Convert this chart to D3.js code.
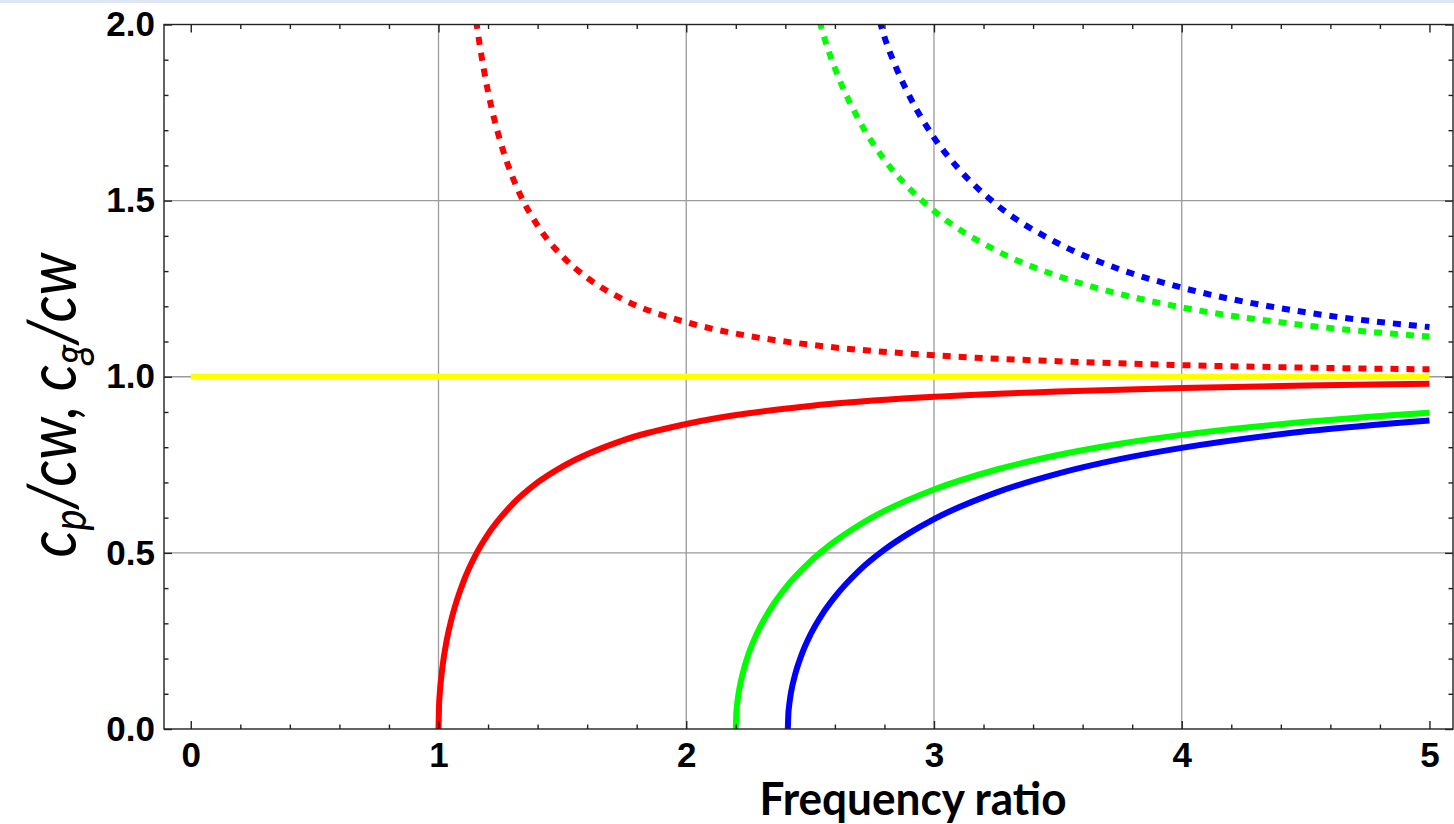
<!DOCTYPE html>
<html>
<head>
<meta charset="utf-8">
<script src="https://cdn.jsdelivr.net/npm/d3@7"></script>
<style>
  html, body { margin: 0; padding: 0; background: #fff; overflow: hidden; }
  svg { display: block; }
</style>
</head>
<body>
<div id="chart"></div>
<script>
// values: [frequency ratio, velocity ratio]
var waterLine   = [[0, 1.0], [5, 1.0]];
var redGroup    = [[1.0,0],[1.002,0.063],[1.005,0.100],[1.01,0.140],[1.02,0.197],[1.03,0.240],[1.05,0.305],[1.075,0.367],[1.1,0.417],[1.15,0.494],[1.2,0.553],[1.3,0.639],[1.4,0.700],[1.5,0.745],[1.75,0.821],[2,0.866],[2.5,0.917],[3,0.943],[3.5,0.958],[4,0.968],[4.5,0.975],[5,0.980]];
var redPhase    = [[1.152,2.01],[1.17,1.926],[1.2,1.809],[1.25,1.667],[1.3,1.565],[1.4,1.429],[1.5,1.342],[1.6,1.281],[1.75,1.218],[2,1.155],[2.25,1.116],[2.5,1.091],[3,1.061],[3.5,1.044],[4,1.033],[4.5,1.026],[5,1.021]];
var greenGroup  = [[2.2,0],[2.202,0.043],[2.205,0.067],[2.21,0.095],[2.22,0.134],[2.23,0.163],[2.25,0.210],[2.275,0.255],[2.3,0.292],[2.35,0.352],[2.4,0.400],[2.5,0.475],[2.6,0.533],[2.7,0.580],[2.8,0.619],[3,0.680],[3.25,0.736],[3.5,0.778],[3.75,0.810],[4,0.835],[4.5,0.872],[5,0.898]];
var greenPhase  = [[2.538,2.01],[2.56,1.956],[2.6,1.876],[2.7,1.725],[2.8,1.616],[2.9,1.535],[3,1.471],[3.25,1.359],[3.5,1.286],[3.75,1.235],[4,1.197],[4.5,1.146],[5,1.114]];
var blueGroup   = [[2.41,0],[2.412,0.041],[2.415,0.064],[2.42,0.091],[2.43,0.128],[2.44,0.156],[2.47,0.219],[2.5,0.266],[2.55,0.327],[2.6,0.375],[2.7,0.451],[2.8,0.509],[2.9,0.556],[3,0.596],[3.25,0.671],[3.5,0.725],[3.75,0.766],[4,0.798],[4.5,0.845],[5,0.876]];
var bluePhase   = [[2.781,2.01],[2.8,1.965],[2.85,1.873],[2.9,1.798],[3,1.679],[3.1,1.590],[3.25,1.490],[3.5,1.379],[3.75,1.305],[4,1.253],[4.5,1.183],[5,1.141]];

var xTicks = [0, 1, 2, 3, 4, 5];
var xMinorTicks = [0.2,0.4,0.6,0.8,1.2,1.4,1.6,1.8,2.2,2.4,2.6,2.8,3.2,3.4,3.6,3.8,4.2,4.4,4.6,4.8];
var yTicks = [0, 0.5, 1.0, 1.5, 2.0];
var yMinorTicks = [0.1,0.2,0.3,0.4,0.6,0.7,0.8,0.9,1.1,1.2,1.3,1.4,1.6,1.7,1.8,1.9];
var xGrid = [1, 2, 3, 4];
var yGrid = [0.5, 1.0, 1.5];

var width = 1454, height = 824;
var plot = {left: 164, right: 1453, top: 24.5, bottom: 729};

var svg = d3.select("#chart").append("svg")
	.attr("width", width)
	.attr("height", height);

// thin pale band along the top edge of the slide
svg.append("rect")
	.attr("x", 0).attr("y", 0)
	.attr("width", width).attr("height", 3)
	.style("fill", "#dfe6f4");

var x = d3.scaleLinear().domain([-0.108, 5.095]).range([plot.left, plot.right]);
var y = d3.scaleLinear().domain([0, 2]).range([plot.bottom, plot.top]);

svg.append("clipPath").attr("id", "clip")
	.append("rect")
	.attr("x", plot.left).attr("y", plot.top)
	.attr("width", plot.right - plot.left).attr("height", plot.bottom - plot.top);

// grid
var grid = svg.append("g").attr("class", "grid");
grid.selectAll(".vgrid").data(xGrid).enter().append("line")
	.attr("x1", function(d){ return x(d); }).attr("x2", function(d){ return x(d); })
	.attr("y1", plot.top).attr("y2", plot.bottom)
	.style("stroke", "#9a9a9a").style("stroke-width", 1.3);
grid.selectAll(".hgrid").data(yGrid).enter().append("line")
	.attr("y1", function(d){ return y(d); }).attr("y2", function(d){ return y(d); })
	.attr("x1", plot.left).attr("x2", plot.right)
	.style("stroke", "#9a9a9a").style("stroke-width", 1.3);

// curves
var line = d3.line()
	.x(function(d){ return x(d[0]); })
	.y(function(d){ return y(d[1]); })
	.curve(d3.curveMonotoneX);

var series = [
	{data: waterLine,  color: "#ffff00", dash: null},
	{data: redPhase,   color: "#ff0000", dash: "8,8"},
	{data: greenPhase, color: "#00ff00", dash: "8,8"},
	{data: bluePhase,  color: "#0000ff", dash: "8,8"},
	{data: redGroup,   color: "#ff0000", dash: null},
	{data: greenGroup, color: "#00ff00", dash: null},
	{data: blueGroup,  color: "#0000ff", dash: null}
];

var curves = svg.append("g").attr("clip-path", "url(#clip)");
curves.selectAll(".curve").data(series).enter().append("path")
	.attr("class", "curve")
	.attr("d", function(d){ return line(d.data); })
	.style("fill", "none")
	.style("stroke", function(d){ return d.color; })
	.style("stroke-width", 6)
	.style("stroke-dasharray", function(d){ return d.dash; });

// frame with inward ticks
function styleAxis(g) {
	g.select(".domain").remove();
	g.selectAll(".tick line").style("stroke", "#222").style("stroke-width", 1.4);
	g.selectAll(".tick text")
		.style("font-family", "'Liberation Sans', Arial, sans-serif")
		.style("font-weight", "bold")
		.style("font-size", "35px")
		.style("fill", "#000");
}

svg.append("g").attr("transform", "translate(0," + plot.bottom + ")")
	.call(d3.axisBottom(x).tickValues(xTicks).tickSizeInner(-8).tickSizeOuter(0).tickPadding(13).tickFormat(d3.format("d")))
	.call(styleAxis);
svg.append("g").attr("transform", "translate(0," + plot.bottom + ")")
	.call(d3.axisBottom(x).tickValues(xMinorTicks).tickSizeInner(-4.5).tickSizeOuter(0).tickFormat(""))
	.call(styleAxis);
svg.append("g").attr("transform", "translate(0," + plot.top + ")")
	.call(d3.axisTop(x).tickValues(xTicks).tickSizeInner(-8).tickSizeOuter(0).tickFormat(""))
	.call(styleAxis);
svg.append("g").attr("transform", "translate(0," + plot.top + ")")
	.call(d3.axisTop(x).tickValues(xMinorTicks).tickSizeInner(-4.5).tickSizeOuter(0).tickFormat(""))
	.call(styleAxis);

svg.append("g").attr("transform", "translate(" + plot.left + ",0)")
	.call(d3.axisLeft(y).tickValues(yTicks).tickSizeInner(-8).tickSizeOuter(0).tickPadding(9).tickFormat(d3.format(".1f")))
	.call(styleAxis);
svg.append("g").attr("transform", "translate(" + plot.left + ",0)")
	.call(d3.axisLeft(y).tickValues(yMinorTicks).tickSizeInner(-4.5).tickSizeOuter(0).tickFormat(""))
	.call(styleAxis);
svg.append("g").attr("transform", "translate(" + plot.right + ",0)")
	.call(d3.axisRight(y).tickValues(yTicks).tickSizeInner(-8).tickSizeOuter(0).tickFormat(""))
	.call(styleAxis);
svg.append("g").attr("transform", "translate(" + plot.right + ",0)")
	.call(d3.axisRight(y).tickValues(yMinorTicks).tickSizeInner(-4.5).tickSizeOuter(0).tickFormat(""))
	.call(styleAxis);

svg.append("rect")
	.attr("x", plot.left).attr("y", plot.top)
	.attr("width", plot.right - plot.left).attr("height", plot.bottom - plot.top)
	.style("fill", "none").style("stroke", "#222").style("stroke-width", 1.4);

// axis titles
svg.append("text")
	.attr("x", 913).attr("y", 815)
	.attr("text-anchor", "middle")
	.style("font-family", "Lato, 'Open Sans', sans-serif")
	.style("font-weight", "bold")
	.style("font-size", "46px")
	.attr("textLength", 307)
	.attr("lengthAdjust", "spacingAndGlyphs")
	.text("Frequency ratio");

var yTitle = svg.append("text")
	.attr("transform", "translate(76,405) rotate(-90)")
	.attr("text-anchor", "middle")
	.style("font-family", "Lato, 'Open Sans', sans-serif")
	.style("font-style", "italic")
	.style("font-size", "68px")
	.attr("textLength", 305)
	.attr("lengthAdjust", "spacingAndGlyphs");
yTitle.append("tspan").text("c");
yTitle.append("tspan").attr("baseline-shift", "-22%").style("font-size", "46px").text("p");
yTitle.append("tspan").text("/cw, c");
yTitle.append("tspan").attr("baseline-shift", "-22%").style("font-size", "46px").text("g");
yTitle.append("tspan").text("/cw");
</script>
</body>
</html>
